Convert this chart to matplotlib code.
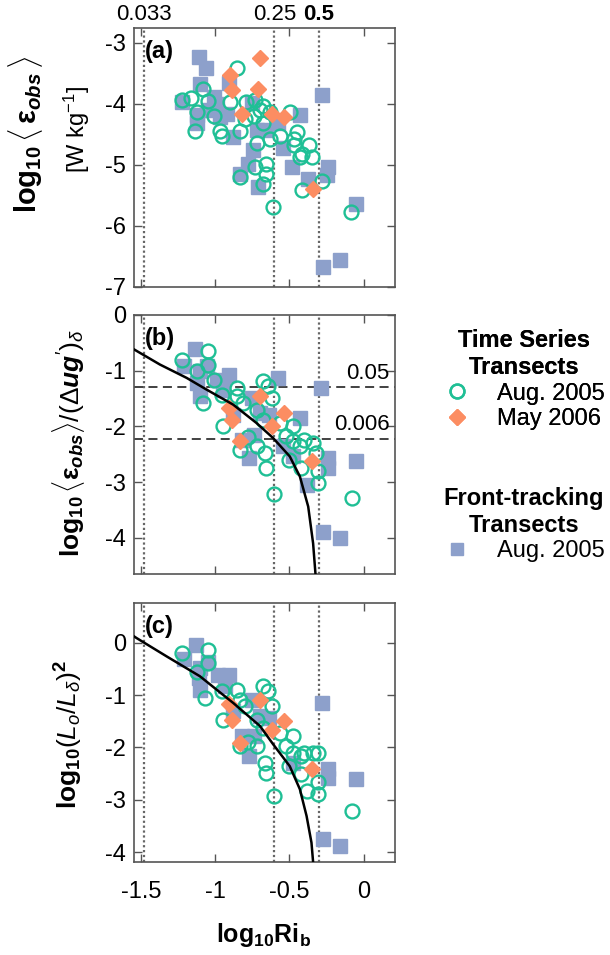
import matplotlib
matplotlib.use('Agg')
import matplotlib.pyplot as plt
from matplotlib.lines import Line2D

plt.rcParams['font.family'] = ['Liberation Sans', 'DejaVu Sans']
plt.rcParams['mathtext.fontset'] = 'custom'
plt.rcParams['mathtext.rm'] = 'Liberation Sans'
plt.rcParams['mathtext.it'] = 'Liberation Sans:italic'
plt.rcParams['mathtext.bf'] = 'Liberation Sans:bold'
plt.rcParams['mathtext.bfit'] = 'Liberation Sans:italic:bold'

GREEN = '#1fbf95'
ORANGE = '#fc8d62'
BLUE = '#8da0cb'

# ---- panel (a): log10 <eps_obs> ----
a_circ_x = [-1.22, -1.125, -1.135, -1.08, -1.047, -0.97, -0.957, -0.85, -0.90, -0.79,
            -0.73, -0.676, -0.63, -0.74, -0.676, -0.72, -0.834, -0.733, -0.655, -0.655,
            -0.676, -0.61, -0.63, -0.565, -0.497, -0.45, -0.47, -0.419, -0.47, -0.37,
            -0.35, -0.43, -0.419, -0.28, -0.085, -1.01, -0.83, -1.16, -0.80, -0.70]
a_circ_y = [-3.94, -4.14, -4.44, -3.76, -3.95, -4.44, -4.52, -3.41, -3.97, -3.97,
            -3.94, -4.03, -4.14, -4.20, -4.32, -4.65, -5.20, -5.04, -4.98, -5.15,
            -5.31, -5.70, -4.58, -4.52, -4.14, -4.47, -4.58, -4.83, -4.68, -4.68,
            -4.87, -4.87, -5.42, -5.26, -5.78, -4.20, -4.44, -3.90, -4.25, -4.10]
a_diam_x = [-0.70, -0.90, -0.89, -0.71, -0.82, -0.62, -0.54, -0.34]
a_diam_y = [-3.25, -3.53, -3.78, -3.75, -4.16, -4.16, -4.22, -5.39]
a_sq_x = [-1.11, -1.06, -1.10, -0.905, -1.22, -1.01, -1.125, -1.125, -1.05, -0.99,
          -0.97, -0.92, -0.88, -0.755, -0.72, -0.655, -0.576, -0.43, -0.543, -0.744,
          -0.778, -0.834, -0.714, -0.486, -0.374, -0.284, -0.24, -0.25, -0.049, -0.16,
          -0.274]
a_sq_y = [-3.23, -3.42, -3.67, -3.66, -3.97, -3.89, -4.19, -4.32, -4.10, -4.00,
          -4.21, -4.16, -4.54, -3.98, -4.43, -4.43, -4.32, -4.19, -4.73, -4.76,
          -4.98, -5.15, -5.36, -5.04, -5.23, -3.86, -5.04, -5.17, -5.64, -6.57,
          -6.68]

# ---- panel (b): log10 <eps_obs> / (du g')_delta ----
b_circ_x = [-1.22, -1.05, -1.05, -1.08, -1.01, -0.957, -0.95, -0.85, -0.85, -0.81,
            -0.834, -0.676, -0.643, -0.62, -0.72, -0.676, -0.565, -0.475, -0.72, -0.665,
            -0.655, -0.605, -0.522, -0.475, -0.43, -0.40, -0.34, -0.32, -0.42, -0.31,
            -0.31, -0.50, -0.078, -1.12, -0.78]
b_circ_y = [-0.80, -0.65, -0.89, -1.58, -1.16, -1.43, -2.00, -1.31, -1.46, -1.58,
            -2.42, -1.19, -1.28, -1.49, -1.70, -1.88, -1.94, -2.00, -2.36, -2.48,
            -2.75, -3.21, -2.18, -2.27, -2.36, -2.24, -2.30, -2.48, -2.75, -2.81,
            -3.02, -2.60, -3.29, -1.00, -2.20]
b_diam_x = [-0.70, -0.91, -0.89, -0.54, -0.62, -0.834, -0.35]
b_diam_y = [-1.46, -1.67, -1.88, -1.76, -2.00, -2.27, -2.63]
b_sq_x = [-1.137, -1.21, -1.10, -1.058, -1.125, -1.10, -0.99, -0.91, -0.945, -0.88,
          -0.755, -0.70, -0.64, -0.58, -0.43, -0.74, -0.82, -0.77, -0.543, -0.475,
          -0.385, -0.29, -0.24, -0.24, -0.049, -0.274, -0.16]
b_sq_y = [-0.62, -0.92, -1.01, -0.92, -1.22, -1.46, -1.16, -1.07, -1.34, -1.79,
          -1.49, -1.76, -1.79, -1.13, -1.85, -2.15, -2.24, -2.57, -2.36, -2.54,
          -3.05, -1.31, -2.57, -2.75, -2.63, -3.89, -4.01]
b_curve_x = [-1.545, -1.372, -1.192, -1.058, -0.879, -0.722, -0.610, -0.498, -0.430,
             -0.374, -0.341, -0.325]
b_curve_y = [-0.62, -0.89, -1.13, -1.34, -1.61, -1.94, -2.21, -2.54, -2.90,
             -3.44, -4.10, -4.65]

# ---- panel (c): log10 (L_o/L_delta)^2 ----
c_circ_x = [-1.22, -1.05, -1.05, -1.07, -0.957, -0.95, -0.85, -0.834, -0.80, -0.83,
            -0.676, -0.643, -0.62, -0.72, -0.676, -0.565, -0.475, -0.72, -0.665, -0.655,
            -0.605, -0.522, -0.475, -0.42, -0.40, -0.34, -0.31, -0.42, -0.385, -0.31,
            -0.31, -0.078, -0.50, -1.12, -0.78]
c_circ_y = [-0.20, -0.13, -0.39, -1.05, -0.93, -1.47, -0.90, -1.09, -1.21, -1.98,
            -0.83, -0.93, -1.21, -1.47, -1.63, -1.72, -1.78, -1.98, -2.29, -2.48,
            -2.93, -1.98, -2.10, -2.17, -2.10, -2.10, -2.10, -2.51, -2.83, -2.90,
            -2.67, -3.21, -2.36, -0.55, -1.90]
c_diam_x = [-0.70, -0.91, -0.89, -0.54, -0.62, -0.834, -0.35]
c_diam_y = [-1.09, -1.18, -1.47, -1.50, -1.66, -1.91, -2.42]
c_sq_x = [-1.13, -1.21, -1.10, -1.05, -1.11, -1.10, -0.98, -0.91, -0.935, -0.88,
          -0.755, -0.70, -0.64, -0.284, -0.82, -0.74, -0.77, -0.475, -0.24, -0.24,
          -0.049, -0.274, -0.16]
c_sq_y = [-0.04, -0.32, -0.48, -0.36, -0.67, -0.90, -0.61, -0.61, -0.83, -1.31,
          -1.09, -1.40, -1.43, -1.15, -1.78, -1.78, -2.17, -2.29, -2.42, -2.58,
          -2.61, -3.75, -3.89]
c_curve_x = [-1.545, -1.529, -1.327, -1.103, -0.879, -0.699, -0.610, -0.498, -0.430,
             -0.385, -0.352, -0.341]
c_curve_y = [0.12, 0.09, -0.26, -0.64, -1.15, -1.59, -1.94, -2.36, -2.80,
             -3.31, -3.82, -4.19]

ri_marks = [0.033, 0.25, 0.5]
ri_marks_log = [-1.48, -0.602, -0.301]
eps_levels = [0.05, 0.006]
eps_levels_log = [-1.301, -2.222]

xticks = [-1.5, -1, -0.5, 0]
xlim = (-1.545, 0.21)

fig = plt.figure(figsize=(6.1, 9.55), dpi=100)
ax_a = fig.add_axes([0.220, 0.6998, 0.4275, 0.2706])
ax_b = fig.add_axes([0.220, 0.3990, 0.4275, 0.2712])
ax_c = fig.add_axes([0.220, 0.0974, 0.4275, 0.2712])

panels = [
    (ax_a, a_circ_x, a_circ_y, a_diam_x, a_diam_y, a_sq_x, a_sq_y, (-7, -2.76), [-7, -6, -5, -4, -3], '(a)'),
    (ax_b, b_circ_x, b_circ_y, b_diam_x, b_diam_y, b_sq_x, b_sq_y, (-4.65, 0), [-4, -3, -2, -1, 0], '(b)'),
    (ax_c, c_circ_x, c_circ_y, c_diam_x, c_diam_y, c_sq_x, c_sq_y, (-4.19, 0.76), [-4, -3, -2, -1, 0], '(c)'),
]

for ax, cx, cy, dx, dy, sx, sy, ylim, yt, lab in panels:
    for xv in ri_marks_log:
        ax.axvline(xv, color='#666666', ls=(0, (1, 1.2)), lw=1.6, zorder=1)
    ax.plot(sx, sy, 's', color=BLUE, ms=9.5, mec=BLUE, zorder=3)
    ax.plot(cx, cy, 'o', mfc='none', mec=GREEN, mew=1.7, ms=10, zorder=4)
    ax.plot(dx, dy, 'D', color=ORANGE, ms=8.5, zorder=5)
    ax.set_xlim(*xlim)
    ax.set_ylim(*ylim)
    ax.set_xticks(xticks)
    ax.set_yticks(yt)
    ax.set_yticklabels([str(v) for v in yt])
    ax.tick_params(direction='in', top=True, right=True, length=6, width=1,
                   color='#555555', labelsize=17, pad=6)
    for sp in ax.spines.values():
        sp.set_color('#555555')
        sp.set_linewidth(1.2)
    ax.text(0.04, 0.955, lab, transform=ax.transAxes, fontsize=17,
            fontweight='bold', va='top', ha='left')

ax_a.tick_params(labelbottom=False)
ax_b.tick_params(labelbottom=False)
ax_c.set_xticklabels(['-1.5', '-1', '-0.5', '0'])
ax_c.tick_params(axis='x', pad=14)

# top labels of panel (a)
sec = ax_a.secondary_xaxis('top')
sec.set_xticks(ri_marks_log)
sec.set_xticklabels(['0.033', '0.25', '0.5'])
sec.tick_params(length=0, labelsize=16, pad=2)
sec.spines['top'].set_visible(False)
sec.get_xticklabels()[2].set_fontweight('bold')

# curves and reference levels
ax_b.plot(b_curve_x, b_curve_y, color='black', lw=1.8, zorder=6)
ax_c.plot(c_curve_x, c_curve_y, color='black', lw=1.8, zorder=6)
for yv, txt in zip(eps_levels_log, ['0.05', '0.006']):
    ax_b.axhline(yv, color='#333333', ls=(0, (5, 3)), lw=1.3, zorder=2)
    ax_b.text(0.175, yv + 0.07, txt, ha='right', va='bottom', fontsize=16)

# axis labels
fig.text(0.042, 0.859, r'$\mathbf{log_{10}}\,\langle\,\boldsymbol{\varepsilon}_{\boldsymbol{obs}}\,\rangle$',
         rotation=90, ha='center', va='center', fontsize=21)
fig.text(0.126, 0.864, r'[W kg$^{-1}$]', rotation=90, ha='center', va='center', fontsize=17)
fig.text(0.113, 0.536, r"$\mathbf{log_{10}}\,\langle\boldsymbol{\varepsilon}_{\boldsymbol{obs}}\rangle/(\Delta\boldsymbol{ug}')_{\delta}$",
         rotation=90, ha='center', va='center', fontsize=19)
fig.text(0.113, 0.231, r'$\mathbf{log_{10}}(\boldsymbol{L_o}/\boldsymbol{L_{\delta}})^{\mathbf{2}}$',
         rotation=90, ha='center', va='center', fontsize=19)
fig.text(0.432, 0.021, r'$\mathbf{log_{10}Ri_b}$', ha='center', va='center', fontsize=18)

# legend
h_circ = Line2D([], [], ls='none', marker='o', mfc='none', mec=GREEN, mew=1.7, ms=10)
h_diam = Line2D([], [], ls='none', marker='D', color=ORANGE, ms=8.5)
h_sq = Line2D([], [], ls='none', marker='s', color=BLUE, ms=9)
leg1 = fig.legend([h_circ, h_diam], ['Aug. 2005', 'May 2006'], title='Time Series\nTransects',
                  loc='upper left', bbox_to_anchor=(0.71, 0.665), frameon=False, fontsize=17,
                  title_fontsize=17, handletextpad=1.1, labelspacing=0.15, borderaxespad=0,
                  handlelength=1.2)
leg1.get_title().set_fontweight('bold')
leg1.get_title().set_multialignment('center')
leg2 = fig.legend([h_sq], ['Aug. 2005'], title='Front-tracking\nTransects',
                  loc='upper left', bbox_to_anchor=(0.71, 0.5), frameon=False, fontsize=17,
                  title_fontsize=17, handletextpad=1.1, labelspacing=0.15, borderaxespad=0,
                  handlelength=1.2)
leg2.get_title().set_fontweight('bold')
leg2.get_title().set_multialignment('center')
fig.add_artist(leg1)

fig.savefig('out.png', dpi=100)
